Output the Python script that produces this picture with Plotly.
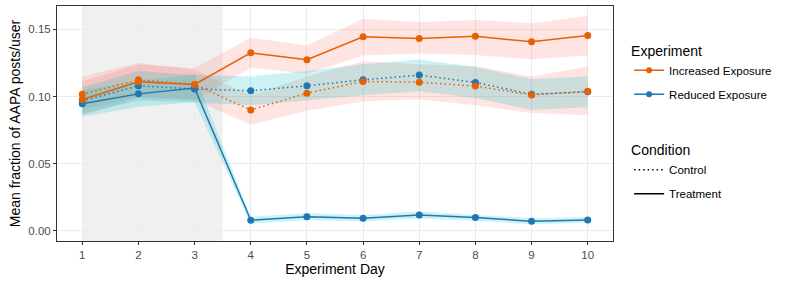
import plotly.graph_objects as go

days = [1, 2, 3, 4, 5, 6, 7, 8, 9, 10]

inc_treat = [0.0978, 0.1110, 0.1090, 0.1326, 0.1274, 0.1445, 0.1433, 0.1448, 0.1408, 0.1455]
inc_treat_lo = [0.0860, 0.0990, 0.0975, 0.1215, 0.1170, 0.1306, 0.1320, 0.1310, 0.1276, 0.1308]
inc_treat_hi = [0.1110, 0.1240, 0.1210, 0.1438, 0.1380, 0.1580, 0.1555, 0.1570, 0.1545, 0.1600]

inc_ctrl = [0.1018, 0.1125, 0.1090, 0.0900, 0.1025, 0.1112, 0.1107, 0.1078, 0.1012, 0.1040]
inc_ctrl_lo = [0.0900, 0.1000, 0.0975, 0.0790, 0.0895, 0.0965, 0.0980, 0.0935, 0.0878, 0.0860]
inc_ctrl_hi = [0.1150, 0.1250, 0.1200, 0.1010, 0.1150, 0.1263, 0.1240, 0.1225, 0.1150, 0.1224]

red_ctrl = [0.0968, 0.1080, 0.1057, 0.1043, 0.1080, 0.1125, 0.1160, 0.1105, 0.1017, 0.1035]
red_ctrl_lo = [0.0870, 0.0970, 0.0955, 0.0935, 0.0970, 0.1010, 0.1040, 0.0990, 0.0900, 0.0920]
red_ctrl_hi = [0.1070, 0.1190, 0.1160, 0.1150, 0.1190, 0.1240, 0.1276, 0.1220, 0.1130, 0.1150]

red_treat = [0.0946, 0.1020, 0.1063, 0.0080, 0.0106, 0.0095, 0.0119, 0.0099, 0.0072, 0.0082]
red_treat_lo = [0.0850, 0.0925, 0.0960, 0.0055, 0.0080, 0.0072, 0.0093, 0.0076, 0.0050, 0.0060]
red_treat_hi = [0.1045, 0.1115, 0.1165, 0.0105, 0.0132, 0.0118, 0.0145, 0.0122, 0.0094, 0.0104]

x_ticks = [1, 2, 3, 4, 5, 6, 7, 8, 9, 10]
y_ticks = [0.00, 0.05, 0.10, 0.15]
y_ticktext = ["0.00", "0.05", "0.10", "0.15"]

ORANGE = "#E66101"
BLUE = "#1F78B4"
PINK_FILL = "rgba(248,118,109,0.2)"
CYAN_FILL = "rgba(0,191,196,0.2)"
FONT = "Liberation Sans, Arial, sans-serif"
DOT = "1.5px,3px"

fig = go.Figure()

def ribbon(lo, hi, fill):
    fig.add_trace(go.Scatter(x=days, y=lo, mode="lines", line=dict(width=0),
                             showlegend=False, hoverinfo="skip"))
    fig.add_trace(go.Scatter(x=days, y=hi, mode="lines", line=dict(width=0),
                             fill="tonexty", fillcolor=fill,
                             showlegend=False, hoverinfo="skip"))

ribbon(inc_treat_lo, inc_treat_hi, PINK_FILL)
ribbon(inc_ctrl_lo, inc_ctrl_hi, PINK_FILL)
ribbon(red_ctrl_lo, red_ctrl_hi, CYAN_FILL)
ribbon(red_treat_lo, red_treat_hi, CYAN_FILL)

def series(y, color, dash):
    fig.add_trace(go.Scatter(x=days, y=y, mode="lines+markers",
                             line=dict(color=color, width=1.5, dash=dash),
                             marker=dict(color=color, size=7),
                             showlegend=False))

series(red_ctrl, BLUE, DOT)
series(red_treat, BLUE, "solid")
series(inc_ctrl, ORANGE, DOT)
series(inc_treat, ORANGE, "solid")

# legend entries
fig.add_trace(go.Scatter(x=[None], y=[None], mode="lines+markers", name="Increased Exposure",
                         line=dict(color=ORANGE, width=1.5), marker=dict(color=ORANGE, size=6),
                         legend="legend", legendgroup="a"))
fig.add_trace(go.Scatter(x=[None], y=[None], mode="lines+markers", name="Reduced Exposure",
                         line=dict(color=BLUE, width=1.5), marker=dict(color=BLUE, size=6),
                         legend="legend", legendgroup="b"))
fig.add_trace(go.Scatter(x=[None], y=[None], mode="lines", name="Control",
                         line=dict(color="black", width=1.5, dash=DOT), legend="legend2",
                         legendgroup="c"))
fig.add_trace(go.Scatter(x=[None], y=[None], mode="lines", name="Treatment",
                         line=dict(color="black", width=1.5), legend="legend2",
                         legendgroup="d"))

fig.add_shape(type="rect", xref="x", yref="paper", x0=1, x1=3.5, y0=0, y1=1,
              fillcolor="#F0F0F0", line=dict(width=0), layer="below")

axis_common = dict(showline=True, linecolor="#333333", linewidth=1, mirror=True,
                   gridcolor="#EBEBEB", gridwidth=1, zeroline=False,
                   ticks="outside", ticklen=3, tickcolor="#333333", automargin=False,
                   tickfont=dict(size=11.5, color="#4D4D4D", family=FONT))

fig.update_xaxes(range=[0.55, 10.45], tickvals=x_ticks,
                 title=dict(text="Experiment Day", font=dict(size=14, color="black", family=FONT), standoff=4),
                 **axis_common)
fig.update_yaxes(range=[-0.0075, 0.1674], tickvals=y_ticks, ticktext=y_ticktext,
                 title=dict(text="Mean fraction of AAPA posts/user", font=dict(size=14, color="black", family=FONT), standoff=4),
                 **axis_common)

legend_common = dict(xref="paper", yref="paper", xanchor="left", yanchor="top",
                     bgcolor="rgba(0,0,0,0)", font=dict(size=11.5, color="black", family=FONT),
                     tracegroupgap=5, itemwidth=30, traceorder="grouped")

fig.update_layout(
    width=793, height=286,
    margin=dict(l=57, r=180, t=6, b=45, autoexpand=False),
    paper_bgcolor="white", plot_bgcolor="white",
    font=dict(family=FONT),
    legend=dict(x=1.029, y=0.866, title=dict(text="Experiment", font=dict(size=14, family=FONT)),
                **legend_common),
    legend2=dict(x=1.029, y=0.442, title=dict(text="Condition", font=dict(size=14, family=FONT)),
                 **legend_common),
)

fig.write_html("out.html", config={"displayModeBar": False},
               post_script="document.body.style.margin='0';document.body.style.padding='0';")
